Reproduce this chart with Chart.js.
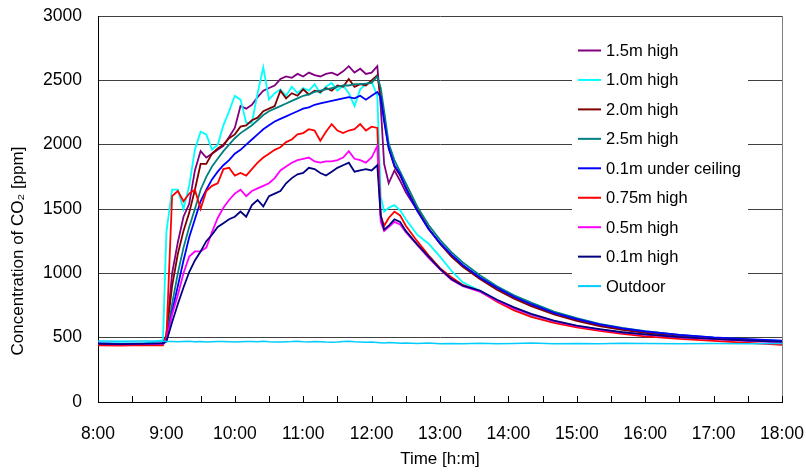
<!DOCTYPE html>
<html>
<head>
<meta charset="utf-8">
<script src="https://cdn.jsdelivr.net/npm/chart.js@4.4.1/dist/chart.umd.min.js"></script>
<style>
  html, body { margin: 0; padding: 0; background: #fff; }
  #wrap { width: 806px; height: 476px; }
</style>
</head>
<body>
<div id="wrap"><canvas id="chart" width="806" height="476"></canvas></div>
<script>
// Time axis in minutes since midnight (8:00 = 480, 18:00 = 1080)
var times = [480, 500, 520, 537,
  540, 545, 550, 555, 560, 565, 570, 575, 580, 585,
  590, 595, 600, 605, 610, 615, 620, 625, 630, 635,
  640, 645, 650, 655, 660, 665, 670, 675, 680, 685,
  690, 695, 700, 705, 710, 715, 720, 725,
  728, 731, 735, 740, 745, 750, 760, 770, 780, 790, 800,
  815, 830, 845, 860, 880, 900, 920, 940, 960, 990, 1020, 1050, 1080];

var h15 = [455, 450, 452, 455,
  520, 1000, 1240, 1440, 1540, 1800, 1950, 1900, 1930, 1960,
  1990, 2060, 2130, 2300, 2280, 2310, 2370, 2420, 2440, 2460,
  2510, 2530, 2520, 2550, 2530, 2560, 2540, 2530, 2550, 2560,
  2540, 2570, 2610, 2560, 2590, 2550, 2560, 2610,
  2300, 1850, 1700, 1800, 1720, 1630, 1490, 1345, 1235, 1140, 1060,
  965, 885, 815, 755, 690, 640, 598, 568, 543, 517, 497, 483, 470];

var h10 = [455, 458, 455, 480,
  1320, 1650, 1650, 1500, 1680, 1960, 2100, 2080, 1960, 2000,
  2150, 2260, 2380, 2350, 2170, 2170, 2400, 2600, 2350, 2400,
  2430, 2380, 2450, 2400, 2440, 2420, 2470, 2400, 2450, 2480,
  2420, 2460, 2400, 2300, 2430, 2470, 2490, 2380,
  1600, 1480, 1510, 1530, 1490, 1420, 1300, 1230, 1130, 1020, 930,
  865, 792, 722, 672, 625, 588, 562, 540, 524, 505, 490, 478, 466];

var h20 = [448, 445, 447, 450,
  520, 900, 1150, 1330, 1470, 1650, 1850, 1850, 1930, 1970,
  2000, 2050, 2080, 2140, 2150, 2190, 2210, 2260, 2280, 2300,
  2420, 2360, 2400, 2380, 2430, 2390, 2420, 2410, 2440, 2420,
  2460, 2450, 2510, 2450, 2470, 2460, 2500, 2540,
  2380, 2200, 1980, 1830, 1760, 1670, 1500, 1350, 1230, 1130, 1050,
  955, 872, 802, 745, 680, 630, 590, 560, 538, 512, 493, 480, 468];

var h25 = [450, 448, 450, 452,
  500, 760, 1000, 1200, 1360, 1500, 1650, 1750, 1830, 1890,
  1950, 2000, 2050, 2090, 2120, 2150, 2190, 2230, 2260, 2280,
  2300, 2320, 2340, 2360, 2380, 2390, 2410, 2420, 2430, 2440,
  2450, 2460, 2460, 2470, 2470, 2475, 2480, 2530,
  2440, 2260, 2010, 1880, 1790, 1700, 1520, 1375, 1260, 1165, 1085,
  985, 900, 830, 772, 702, 652, 607, 576, 551, 522, 501, 487, 474];

var ceiling = [455, 452, 454, 456,
  490, 700, 900, 1100, 1280, 1420, 1560, 1650, 1730, 1790,
  1840, 1880, 1930, 1960, 2000, 2040, 2080, 2120, 2150, 2180,
  2200, 2220, 2240, 2260, 2280, 2290, 2310, 2320, 2330, 2340,
  2350, 2360, 2370, 2360, 2380, 2350, 2380, 2410,
  2370, 2180, 1970, 1840, 1770, 1660, 1485, 1345, 1235, 1145, 1065,
  968, 888, 818, 760, 693, 645, 603, 573, 549, 522, 502, 488, 476];

var h075 = [440, 438, 442, 440,
  500, 1600, 1640, 1560, 1620, 1650, 1500, 1640, 1680, 1700,
  1810, 1820, 1760, 1780, 1760, 1810, 1860, 1900, 1930, 1960,
  1980, 2020, 2040, 2080, 2090, 2120, 2110, 2030, 2100, 2160,
  2110, 2090, 2110, 2120, 2160, 2110, 2140, 2130,
  1450, 1370, 1430, 1480, 1450, 1370, 1250, 1140, 1040, 970, 910,
  860, 780, 712, 662, 615, 580, 553, 530, 510, 490, 475, 460, 445];

var h05 = [450, 448, 450, 452,
  480, 680, 830, 1000, 1130, 1170, 1170, 1200, 1320, 1430,
  1510, 1570, 1620, 1650, 1600, 1640, 1660, 1680, 1700, 1740,
  1800, 1830, 1860, 1880, 1890, 1900, 1870, 1860, 1870, 1870,
  1880, 1900, 1950, 1890, 1880, 1860, 1900, 1990,
  1400, 1330, 1360, 1400, 1380, 1320, 1220, 1120, 1030, 950, 900,
  858, 788, 728, 678, 628, 590, 563, 540, 523, 503, 488, 476, 464];

var h01 = [452, 450, 452, 455,
  470, 620, 760, 890, 1010, 1100, 1170, 1250, 1300, 1360,
  1390, 1420, 1440, 1480, 1440, 1530, 1570, 1520, 1600, 1620,
  1640, 1700, 1740, 1770, 1780, 1820, 1810, 1780, 1760, 1790,
  1820, 1840, 1860, 1790, 1800, 1810, 1800, 1840,
  1450, 1340, 1370, 1420, 1400, 1330, 1225, 1130, 1035, 955, 905,
  865, 795, 735, 685, 632, 594, 566, 542, 525, 505, 490, 478, 468];

var outdoor = [475, 472, 474, 473,
  470, 471, 468, 470, 472, 469, 470, 467, 469, 471,
  470, 468, 466, 469, 471, 470, 468, 472, 469, 467,
  466, 468, 470, 473, 469, 467, 470, 468, 466, 465,
  467, 470, 472, 468, 466, 464, 466, 462,
  460, 458, 462, 460, 457, 459, 455, 458, 452, 455, 453,
  456, 452, 455, 458, 452, 455, 453, 457, 455, 452, 455, 453, 455];

var seriesNames = ["1.5m high", "1.0m high", "2.0m high", "2.5m high", "0.1m under ceiling",
  "0.75m high", "0.5m high", "0.1m high", "Outdoor"];
var seriesValues = [h15, h10, h20, h25, ceiling, h075, h05, h01, outdoor];
var seriesColors = ["#800080", "#00ffff", "#800000", "#008080", "#0000ff",
  "#ff0000", "#ff00ff", "#000080", "#00ccff"];

var FONT = "'Liberation Sans', Arial, sans-serif";

function pts(vals) {
  return vals.map(function (v, i) { return { x: times[i], y: v }; });
}

// legend inside the plot, titles, inner tick marks, right frame
var decor = {
  id: "decor",
  beforeDatasetsDraw: function (chart) {
    var ctx = chart.ctx;
    var a = chart.chartArea;
    ctx.save();
    ctx.strokeStyle = "#808080";
    ctx.lineWidth = 1;
    ctx.beginPath();
    ctx.moveTo(Math.round(a.right) + 0.5, a.top);
    ctx.lineTo(Math.round(a.right) + 0.5, a.bottom);
    ctx.stroke();

    ctx.fillStyle = "#fff";
    ctx.fillRect(a.right - 210, 36, 176, 264);
    ctx.font = "16.5px " + FONT;
    ctx.textBaseline = "middle";
    ctx.textAlign = "left";
    chart.data.datasets.forEach(function (ds, i) {
      var y = 50.5 + i * 29.45;
      ctx.strokeStyle = ds.borderColor;
      ctx.lineWidth = 2;
      ctx.beginPath();
      ctx.moveTo(a.right - 204, y);
      ctx.lineTo(a.right - 181, y);
      ctx.stroke();
      ctx.fillStyle = "#000";
      ctx.fillText(ds.label, a.right - 176, y + 1);
    });
    ctx.restore();
  },
  afterDraw: function (chart) {
    var ctx = chart.ctx;
    var a = chart.chartArea;
    var xs = chart.scales.x;
    ctx.save();
    ctx.strokeStyle = "#000";
    ctx.lineWidth = 1;
    for (var t = 480; t <= 1080; t += 30) {
      var px = Math.round(xs.getPixelForValue(t)) + 0.5;
      ctx.beginPath();
      ctx.moveTo(px, a.bottom);
      ctx.lineTo(px, a.bottom - 6);
      ctx.stroke();
    }
    ctx.fillStyle = "#000";
    ctx.font = "17px " + FONT;
    ctx.textAlign = "center";
    ctx.textBaseline = "middle";
    ctx.fillText("Time [h:m]", (a.left + a.right) / 2, 459);
    ctx.translate(18, 251);
    ctx.rotate(-Math.PI / 2);
    ctx.fillText("Concentration of CO\u2082 [ppm]", 0, 0);
    ctx.restore();
  },
};

new Chart(document.getElementById("chart"), {
  type: "line",
  data: {
    datasets: seriesNames.map(function (name, i) {
      return {
        label: name,
        data: pts(seriesValues[i]),
        borderColor: seriesColors[i],
        backgroundColor: seriesColors[i],
        borderWidth: i === 8 ? 1.5 : 1.8,
        pointRadius: 0,
        tension: 0,
        order: 9 - i,
      };
    }),
  },
  options: {
    responsive: false,
    animation: false,
    layout: { padding: { left: 0, right: 24, top: 16, bottom: 0 } },
    plugins: { legend: { display: false }, tooltip: { enabled: false } },
    scales: {
      x: {
        type: "linear",
        min: 480,
        max: 1080,
        grid: { display: false },
        border: { display: true, color: "#000", width: 1 },
        ticks: {
          stepSize: 60,
          padding: 14,
          color: "#000",
          font: { family: FONT, size: 17.5 },
          maxRotation: 0,
          callback: function (v) {
            var m = v % 60;
            return Math.floor(v / 60) + ":" + (m < 10 ? "0" : "") + m;
          },
        },
        afterFit: function (s) {
          s.height = 74;
          s.paddingLeft = 0;
          s.paddingRight = 0;
        },
      },
      y: {
        min: 0,
        max: 3000,
        grid: {
          drawTicks: false,
          color: function (c) { return c.tick && c.tick.value === 0 ? "rgba(0,0,0,0)" : "#404040"; },
        },
        border: { display: true, color: "#000", width: 1 },
        ticks: {
          stepSize: 500,
          padding: 16,
          color: "#000",
          font: { family: FONT, size: 17.5 },
          callback: function (v) { return String(v); },
        },
        afterFit: function (s) {
          s.width = 98;
          s.paddingTop = 0;
          s.paddingBottom = 0;
        },
      },
    },
  },
  plugins: [decor],
});
</script>
</body>
</html>
